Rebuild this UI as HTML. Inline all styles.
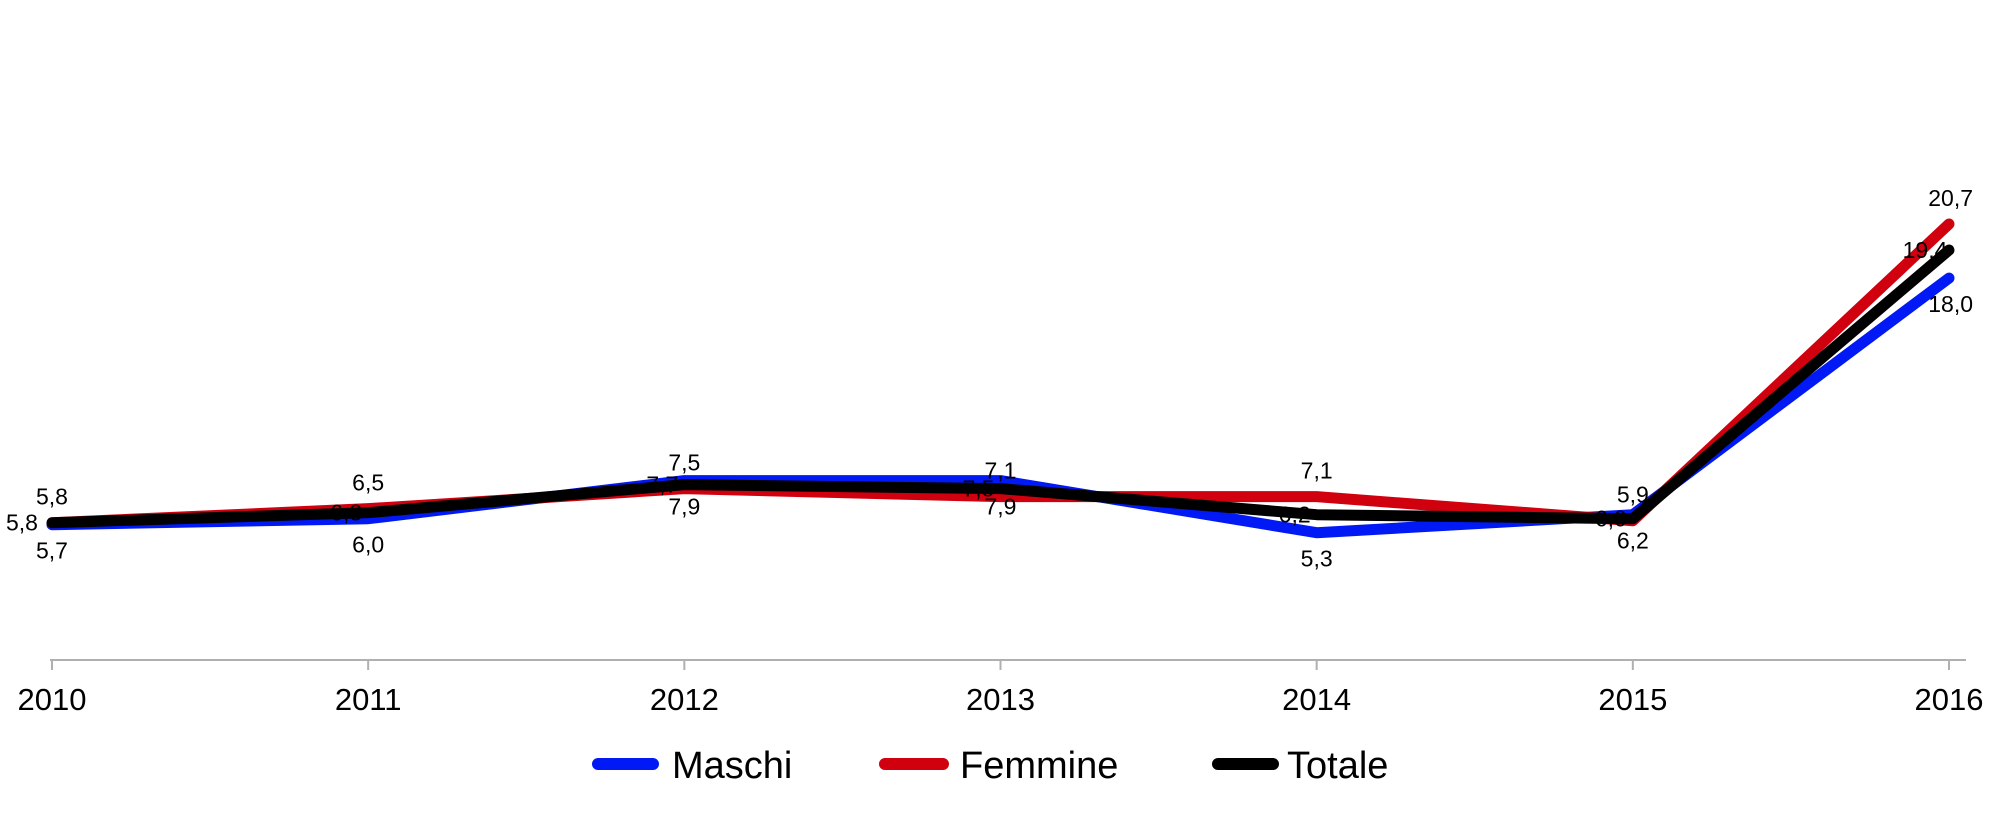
<!DOCTYPE html>
<html><head><meta charset="utf-8"><style>
html,body{margin:0;padding:0;background:#fff;}
svg{display:block;font-family:"Liberation Sans Narrow","Liberation Sans",sans-serif;}
</style></head><body>
<svg id="chart" width="1993" height="836" viewBox="0 0 1993 836" xmlns="http://www.w3.org/2000/svg">
<line x1="50" y1="660" x2="1966" y2="660" stroke="#b0b0b0" stroke-width="2"/>
<g id="ticks"></g><g id="lines"></g><g id="labels"></g>
<g>
 <g><line x1="598" y1="764" x2="653" y2="764" stroke="#0019f5" stroke-width="12" stroke-linecap="round"/><text x="672" y="778" font-size="38">Maschi</text></g>
 <g><line x1="885" y1="764" x2="943" y2="764" stroke="#d0000f" stroke-width="12" stroke-linecap="round"/><text x="960" y="778" font-size="38">Femmine</text></g>
 <g><line x1="1218" y1="764" x2="1273" y2="764" stroke="#000" stroke-width="12" stroke-linecap="round"/><text x="1287" y="778" font-size="38">Totale</text></g>
</g>
</svg>
<script>
const categories = ["2010","2011","2012","2013","2014","2015","2016"];
const maschi = [5.7, 6.0, 7.9, 7.9, 5.3, 6.2, 18.0];
const femmine = [5.8, 6.5, 7.5, 7.1, 7.1, 5.9, 20.7];
const totale = [5.8, 6.3, 7.7, 7.5, 6.2, 6.0, 19.4];
const NS = "http://www.w3.org/2000/svg";
const x0 = 52, x1 = 1949, y0 = 639, unit = 20.05;
function xs(i){ return x0 + i*(x1-x0)/(categories.length-1); }
function ys(v){ return y0 - v*unit; }
function fmt(v){ return v.toFixed(1).replace(".", ","); }
const ticks = document.getElementById("ticks");
categories.forEach((c,i)=>{
  const t = document.createElementNS(NS,"line");
  
  
  t.setAttribute("x1",xs(i)); t.setAttribute("x2",xs(i));
  t.setAttribute("y1",660); t.setAttribute("y2",670);
  t.setAttribute("stroke","#b0b0b0"); t.setAttribute("stroke-width","2");
  ticks.appendChild(t);
  const l = document.createElementNS(NS,"text");
  
  
  l.setAttribute("x",xs(i)); l.setAttribute("y",710);
  l.setAttribute("font-size","31"); l.setAttribute("text-anchor","middle");
  l.textContent = c; ticks.appendChild(l);
});
const series = [
  {name:"maschi", vals:maschi, color:"#0019f5", dy:34, dx:0},
  {name:"femmine", vals:femmine, color:"#d0000f", dy:-18, dx:0},
  {name:"totale", vals:totale, color:"#000", dy:8, dx:-22}
];
const lines = document.getElementById("lines"), labels = document.getElementById("labels");
series.forEach(s=>{
  const p = document.createElementNS(NS,"polyline");
  
  
  p.setAttribute("points", s.vals.map((v,i)=>xs(i)+","+ys(v)).join(" "));
  p.setAttribute("fill","none"); p.setAttribute("stroke",s.color);
  p.setAttribute("stroke-width","11"); p.setAttribute("stroke-linecap","round"); p.setAttribute("stroke-linejoin","round");
  lines.appendChild(p);
  s.vals.forEach((v,i)=>{
    const t = document.createElementNS(NS,"text");
    
    
    t.setAttribute("x", xs(i)+s.dx + (i===6?-2:0) - (i===0 && s.name==="totale"?8:0));
    t.setAttribute("y", ys(v)+s.dy);
    t.setAttribute("font-size","23"); t.setAttribute("text-anchor", i===6 && s.name!=="totale" ? "end" : "middle");
    if(i===6 && s.name!=="totale") t.setAttribute("x", xs(i)+24);
    t.textContent = fmt(v); labels.appendChild(t);
  });
});
</script>
</body></html>
